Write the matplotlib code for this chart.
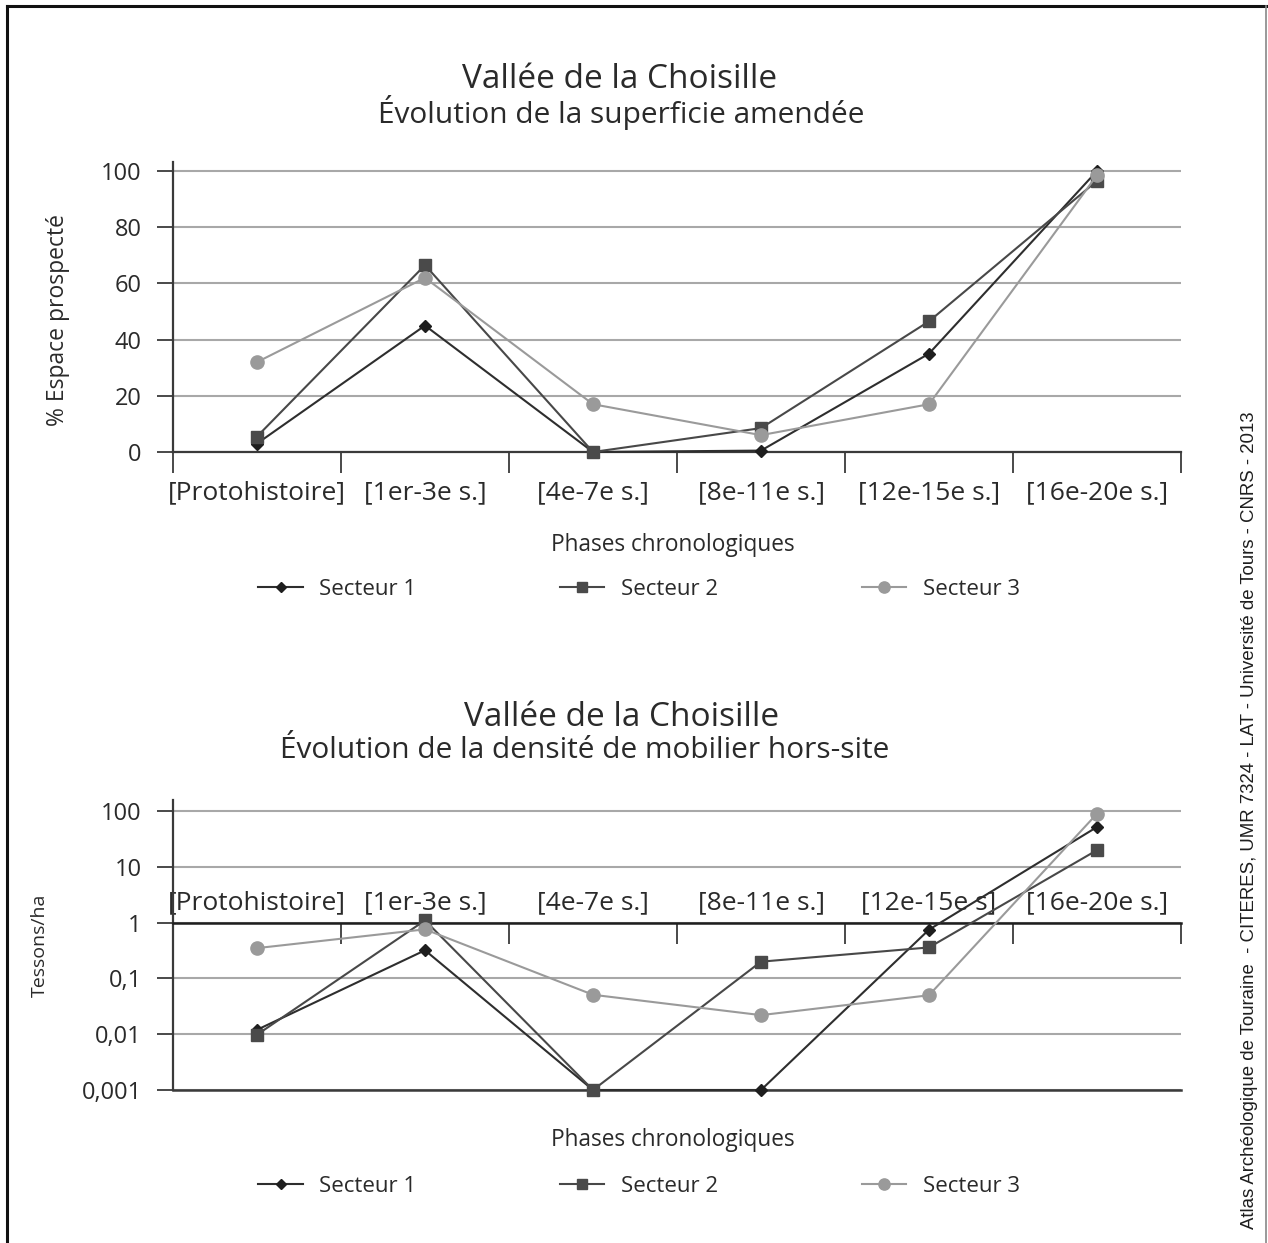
import numpy as np
import matplotlib
matplotlib.use("Agg")
from matplotlib import pyplot as plt
from matplotlib.lines import Line2D
from matplotlib.ticker import FixedLocator, NullFormatter

plt.rcParams['font.family'] = ['Open Sans', 'DejaVu Sans']

# phases chronologiques
phases = ["[Protohistoire]", "[1er-3e s.]", "[4e-7e s.]", "[8e-11e s.]", "[12e-15e s.]", "[16e-20e s.]"]
phases_bas = ["[Protohistoire]", "[1er-3e s.]", "[4e-7e s.]", "[8e-11e s.]", "[12e-15e s]", "[16e-20e s.]"]

# superficie amendee (% espace prospecte)
surf_s1 = [3, 45, 0, 0.5, 35, 100]
surf_s2 = [5.5, 66.5, 0, 8.5, 46.5, 96.5]
surf_s3 = [32, 62, 17, 6, 17, 98.5]

# densite de mobilier hors-site (tessons/ha)
dens_s1 = [0.012, 0.32, 0.001, 0.001, 0.75, 52]
dens_s2 = [0.0098, 1.1, 0.001, 0.2, 0.36, 20]
dens_s3 = [0.35, 0.76, 0.051, 0.022, 0.05, 90]

y_ticks_lin = [0, 20, 40, 60, 80, 100]
y_ticks_log = [0.001, 0.01, 0.1, 1, 10, 100]
y_labels_log = ["0,001", "0,01", "0,1", "1", "10", "100"]

series = ["Secteur 1", "Secteur 2", "Secteur 3"]

W, H = 1268, 1243
fig = plt.figure(figsize=(W / 100, H / 100), dpi=100)

styles = [
    dict(color="#2e2e2e", marker="D", markersize=6.5, markerfacecolor="#1e1e1e", markeredgecolor="#1e1e1e"),
    dict(color="#484848", marker="s", markersize=8.5, markerfacecolor="#4a4a4a", markeredgecolor="#4a4a4a"),
    dict(color="#9a9a9a", marker="o", markersize=9.5, markerfacecolor="#9a9a9a", markeredgecolor="#9a9a9a"),
]

x = np.arange(len(phases))
txt_col = "#2a2a2a"
grid_col = "#a8a8a8"
spine_col = "#3a3a3a"


def fx(px):
    return px / W


def fy(py):
    return 1 - py / H


def base_axes(ax):
    ax.set_xlim(-0.5, len(phases) - 0.5)
    ax.xaxis.set_major_locator(FixedLocator(np.arange(-0.5, len(phases), 1.0)))
    ax.xaxis.set_major_formatter(NullFormatter())
    ax.xaxis.set_minor_locator(FixedLocator(x))
    ax.spines['right'].set_visible(False)
    ax.spines['left'].set_color(spine_col)
    ax.spines['left'].set_linewidth(1.6)
    ax.tick_params(axis='y', direction='out', length=11.5, width=1.3, color=spine_col,
                   labelsize=17, labelcolor=txt_col, pad=11)
    ax.grid(axis='y', color=grid_col, linewidth=1.5)
    ax.set_axisbelow(True)


def legende(ax, ypx):
    h, l = ax.get_legend_handles_labels()
    fig.legend(h, l, loc='center', bbox_to_anchor=(fx(639), fy(ypx)), ncol=3, frameon=False,
               fontsize=16, columnspacing=6.45, handlelength=2.0, handletextpad=0.75,
               labelcolor=txt_col, markerscale=0.85)


# ---- graphique 1 : superficie amendee
ax1 = fig.add_axes([fx(173), fy(452), fx(1181) - fx(173), fy(162) - fy(452)])
base_axes(ax1)
ax1.set_ylim(0, 103.2)
ax1.set_yticks(y_ticks_lin)
ax1.spines['top'].set_visible(False)
ax1.spines['bottom'].set_color(spine_col)
ax1.spines['bottom'].set_linewidth(1.6)
ax1.tick_params(axis='x', which='major', direction='out', length=15, width=1.3, color=spine_col)
ax1.tick_params(axis='x', which='minor', length=0, labelsize=19, labelcolor=txt_col, pad=20)
ax1.set_xticklabels(phases, minor=True)
for vals, st, name in zip([surf_s1, surf_s2, surf_s3], styles, series):
    ax1.plot(x, vals, linewidth=1.5, label=name, clip_on=False, zorder=3, **st)
ax1.set_ylabel("% Espace prospecté", fontsize=16.5, color=txt_col)
ax1.yaxis.set_label_coords(-0.102, 0.455)

fig.text(fx(620), fy(79), "Vallée de la Choisille", ha='center', va='center', fontsize=24, color=txt_col)
fig.text(fx(621), fy(113), "Évolution de la superficie amendée", ha='center', va='center', fontsize=21.5, color=txt_col)
fig.text(fx(673), fy(545), "Phases chronologiques", ha='center', va='center', fontsize=16.3, color=txt_col)
legende(ax1, 589)

# ---- graphique 2 : densite de mobilier
ax2 = fig.add_axes([fx(173), fy(1090), fx(1181) - fx(173), fy(800) - fy(1090)])
base_axes(ax2)
ax2.set_yscale('log')
ax2.set_ylim(0.001, 10 ** 2.2)
ax2.set_yticks(y_ticks_log)
ax2.set_yticklabels(y_labels_log)
ax2.yaxis.set_minor_formatter(NullFormatter())
ax2.tick_params(axis='y', which='minor', length=0)
ax2.xaxis.set_ticks_position('top')
ax2.spines['top'].set_position(('data', 1))
ax2.spines['top'].set_color("#1e1e1e")
ax2.spines['top'].set_linewidth(1.8)
ax2.spines['bottom'].set_color(spine_col)
ax2.spines['bottom'].set_linewidth(1.8)
ax2.tick_params(axis='x', which='major', direction='in', length=15, width=1.3, color=spine_col,
                top=True, bottom=False)
ax2.tick_params(axis='x', which='minor', length=0, labelsize=19, labelcolor=txt_col, pad=5,
                top=True, bottom=False, labeltop=True, labelbottom=False)
ax2.set_xticklabels(phases_bas, minor=True)
for vals, st, name in zip([dens_s1, dens_s2, dens_s3], styles, series):
    ax2.plot(x, vals, linewidth=1.5, label=name, clip_on=False, zorder=3, **st)
ax2.set_ylabel("Tessons/ha", fontsize=14, color=txt_col)
ax2.yaxis.set_label_coords(-0.123, 0.5)

fig.text(fx(622), fy(717), "Vallée de la Choisille", ha='center', va='center', fontsize=24, color=txt_col)
fig.text(fx(585), fy(750), "Évolution de la densité de mobilier hors-site", ha='center', va='center',
         fontsize=21.5, color=txt_col)
fig.text(fx(673), fy(1140), "Phases chronologiques", ha='center', va='center', fontsize=16.3, color=txt_col)
legende(ax2, 1186)

# ---- credit et cadre
fig.text(fx(1250), fy(820), "Atlas Archéologique de Touraine  - CITERES, UMR 7324 - LAT - Université de Tours - CNRS - 2013",
         rotation=90, ha='center', va='center', fontsize=13.4, family='Liberation Sans', color="#1e1e1e")

fig.add_artist(Line2D([fx(7), fx(1266)], [fy(6), fy(6)], color="#111111", linewidth=2.2))
fig.add_artist(Line2D([fx(7), fx(7)], [fy(6), 0], color="#111111", linewidth=2.2))
fig.add_artist(Line2D([fx(1266), fx(1266)], [fy(6), 0], color="#888888", linewidth=1.2))

fig.savefig("out.png", dpi=100)
